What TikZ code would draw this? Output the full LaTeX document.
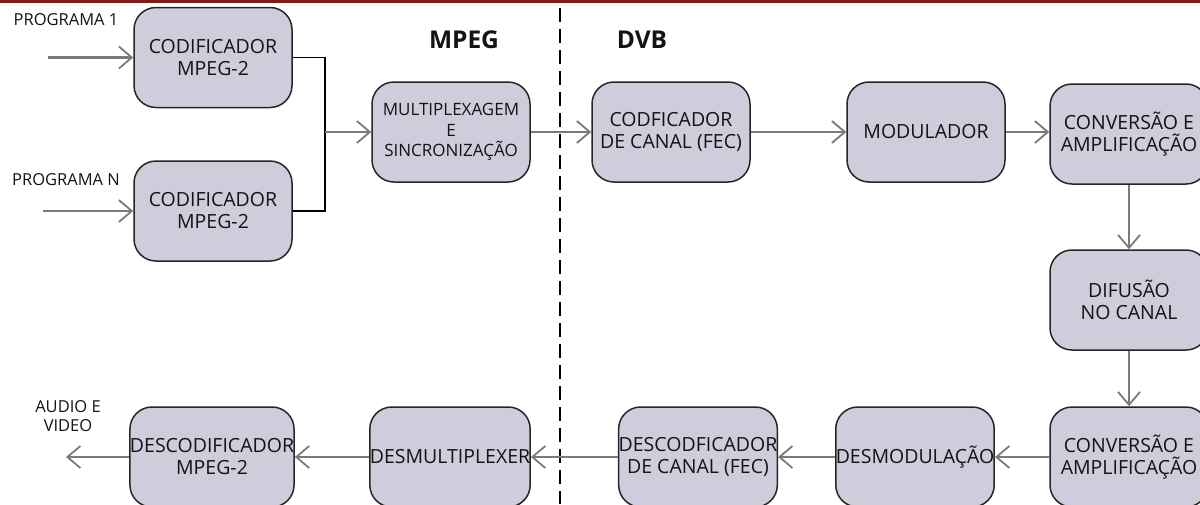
\documentclass[tikz,border=0pt]{standalone}
\usepackage{fontspec}
\setmainfont{Open Sans}
\usetikzlibrary{arrows.meta}
\definecolor{boxfill}{HTML}{CDCDDB}
\definecolor{arrowgray}{HTML}{7A7A7A}
\definecolor{topred}{HTML}{7A1E1E}
\definecolor{txt}{HTML}{141414}
\tikzset{
  blk/.style={draw=black!85, line width=1.5pt, fill=boxfill, rounded corners=22pt,
    minimum width=158pt, minimum height=100pt, inner sep=0pt, align=center,
    text=txt, font=\fontsize{19.5}{22}\selectfont},
  flow/.style={draw=arrowgray, line width=2.6pt,
    -{Straight Barb[length=13pt,width=22pt,line width=1.8pt]}},
  joinline/.style={draw=black, line width=1.4pt},
  lbl/.style={text=txt, align=center, inner sep=0pt, font=\fontsize{16.5}{19}\selectfont},
  head/.style={text=txt, inner sep=0pt, font=\fontsize{24.5}{28}\selectfont\bfseries}
}
\begin{document}
\begin{tikzpicture}[x=1pt,y=-1pt]
\clip (0,0) rectangle (1200,504);
\fill[white] (0,0) rectangle (1200,504);
\fill[topred] (0,0) rectangle (1200,2.5);
% dashed separator
\draw[black, line width=1.8pt, dash pattern=on 14pt off 7pt] (560,8) -- (560,504);
% headings
\node[head] (hmpeg) at (464,40) {MPEG};
\node[head] (hdvb) at (642,40) {DVB};
% boxes
\node[blk] (cod1) at (213,57.5) {CODIFICADOR\\MPEG-2};
\node[blk] (codN) at (213,211) {CODIFICADOR\\MPEG-2};
\node[blk, font=\fontsize{17}{20.5}\selectfont] (mux) at (451,132) {MULTIPLEXAGEM\\E\\SINCRONIZAÇÃO};
\node[blk] (fec) at (671,132) {CODFICADOR\\DE CANAL (FEC)};
\node[blk] (mod) at (926,132) {MODULADOR};
\node[blk] (conv1) at (1129,134) {CONVERSÃO E\\AMPLIFICAÇÃO};
\node[blk] (dif) at (1129,300) {DIFUSÃO\\NO CANAL};
\node[blk] (conv2) at (1129,457) {CONVERSÃO E\\AMPLIFICAÇÃO};
\node[blk] (desmod) at (915,457) {DESMODULAÇÃO};
\node[blk] (dfec) at (698,457) {DESCODFICADOR\\DE CANAL (FEC)};
\node[blk] (demux) at (450,457) {DESMULTIPLEXER};
\node[blk] (descod) at (212,457) {DESCODIFICADOR\\MPEG-2};
% labels
\node[lbl] (p1) at (66,20) {PROGRAMA 1};
\node[lbl] (pN) at (66,180) {PROGRAMA N};
\node[lbl] (av) at (68,416) {AUDIO E\\VIDEO};
% inputs / output
\coordinate (in1) at (48,57.5);
\coordinate (inN) at (43,211);
\coordinate (out) at (66,457);
\coordinate (j1) at (325,57.5);
\coordinate (jN) at (325,211);
\coordinate (jm) at (325,132);
\draw[flow] (in1) -- (cod1.west);
\draw[flow] (inN) -- (codN.west);
\draw[joinline] (cod1.east) -- (j1) -- (jN) -- (codN.east);
\draw[flow] (jm) -- (mux.west);
\draw[flow] (mux.east) -- (fec.west);
\draw[flow] (fec.east) -- (mod.west);
\draw[flow] (mod.east) -- (mod.east -| conv1.west);
\draw[flow] (conv1.south) -- (dif.north);
\draw[flow] (dif.south) -- (conv2.north);
\draw[flow] (conv2.west) -- (desmod.east);
\draw[flow] (desmod.west) -- (dfec.east);
\draw[flow] (dfec.west) -- (demux.east);
\draw[flow] (demux.west) -- (descod.east);
\draw[flow] (descod.west) -- (out);
\end{tikzpicture}
\end{document}
